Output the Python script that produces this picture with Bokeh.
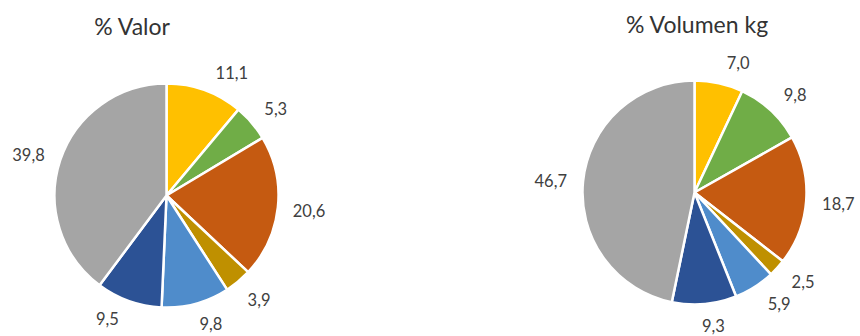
import math
from bokeh.plotting import figure
from bokeh.models import Range1d, ColumnDataSource
from bokeh.core.properties import value
from bokeh.embed import file_html
from bokeh.resources import INLINE

# ---- data ----
titles = ["% Valor", "% Volumen kg"]
valor = [11.1, 5.3, 20.6, 3.9, 9.8, 9.5, 39.8]
volumen = [7.0, 9.8, 18.7, 2.5, 5.9, 9.3, 46.7]
colors = ["#FFC000", "#70AD47", "#C55A11", "#BF9000", "#4F8CCB", "#2C5295", "#A5A5A5"]

# ---- layout (page pixels -> data units, 1 unit = 1 px) ----
W, H = 860, 336
PAGE_H = 336
R = 112
GAP, HALF_H, CHAR_HALF_W = 14, 6, 4.2
# small label angle nudges (degrees, clockwise) mimicking the spreadsheet's label placement
nudge_valor = [8, 2, 0, -2, -4, 6, -2]
nudge_volumen = [6, 3, 0, -3, -5, -3, -1]
pies = [
    dict(values=valor, nudge=nudge_valor, cx=166, cy=PAGE_H - 195, extra=0,
         title=titles[0], tx=132, ty=PAGE_H - 25),
    dict(values=volumen, nudge=nudge_volumen, cx=694, cy=PAGE_H - 192, extra=1,
         title=titles[1], tx=697, ty=PAGE_H - 23),
]

p = figure(width=W, height=H, x_range=Range1d(0, W), y_range=Range1d(PAGE_H - H, PAGE_H),
           x_axis_type=None, y_axis_type=None, toolbar_location=None,
           output_backend="svg", min_border=0)
p.outline_line_color = None
p.background_fill_color = "white"
p.border_fill_color = "white"

FONT = value("Lato")
TXT = "#404040"

for pie in pies:
    vals = pie["values"]
    total = sum(vals)
    cum = 0.0
    starts, ends, lx, ly, labels = [], [], [], [], []
    for v, nd in zip(vals, pie["nudge"]):
        a0 = 90 - 360 * (cum + v) / total
        a1 = 90 - 360 * cum / total
        starts.append(math.radians(a0))
        ends.append(math.radians(a1))
        lab = f"{v:.1f}".replace(".", ",")
        mid = math.radians((a0 + a1) / 2 - nd)
        half_w = CHAR_HALF_W * len(lab)
        dist = R + GAP + pie["extra"] + abs(math.cos(mid)) * half_w + abs(math.sin(mid)) * HALF_H
        lx.append(pie["cx"] + dist * math.cos(mid))
        ly.append(pie["cy"] + dist * math.sin(mid))
        labels.append(lab)
        cum += v
    src = ColumnDataSource(dict(start=starts, end=ends, color=colors))
    p.wedge(x=pie["cx"], y=pie["cy"], radius=R, radius_units="data",
            start_angle="start", end_angle="end", direction="anticlock",
            fill_color="color", line_color="white", line_width=2.5, source=src)
    lsrc = ColumnDataSource(dict(x=lx, y=ly, t=labels))
    p.text(x="x", y="y", text="t", source=lsrc, text_font=FONT, text_font_size="16.5px",
           text_color=TXT, text_align="center", text_baseline="middle")
    p.text(x=[pie["tx"]], y=[pie["ty"]], text=[pie["title"]], text_font=FONT,
           text_font_size="23px", text_color="#333333", text_align="center",
           text_baseline="middle")

open("out.html", "w").write(file_html(p, INLINE))
